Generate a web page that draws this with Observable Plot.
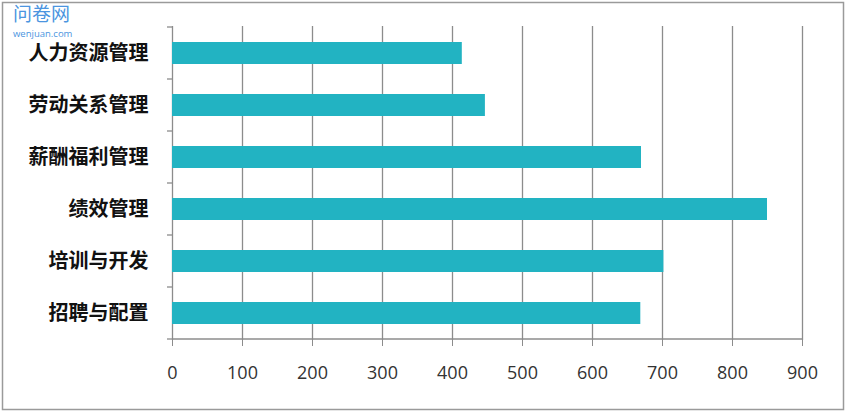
<!DOCTYPE html>
<html>
<head>
<meta charset="utf-8">
<script src="https://cdn.jsdelivr.net/npm/d3@7"></script>
<script src="https://cdn.jsdelivr.net/npm/@observablehq/plot@0.6"></script>
<style>
  html, body { margin: 0; padding: 0; background: #fff; }
  #wrap { position: relative; width: 846px; height: 413px; overflow: hidden; }
  #logo { position: absolute; left: 13px; top: 3px; color: #4b95e0; font-family: "Noto Sans CJK SC", sans-serif; line-height: 1; }
  #logo .cn { font-size: 19px; line-height: 20px; height: 20px; letter-spacing: 0px; }
  #logo .en { font-family: "Open Sans", sans-serif; font-size: 9.5px; line-height: 10px; height: 10px; margin-top: 6px; }
</style>
</head>
<body>
<div id="wrap">
  <div id="chart"></div>
  <div id="logo"><div class="cn">问卷网</div><div class="en">wenjuan.com</div></div>
</div>
<script>
const categories = ["人力资源管理", "劳动关系管理", "薪酬福利管理", "绩效管理", "培训与开发", "招聘与配置"];
const values = [414, 447, 670, 850, 702, 669];
const xTicks = [0, 100, 200, 300, 400, 500, 600, 700, 800, 900];

const data = categories.map((c, i) => ({category: c, value: values[i]}));
const gray = "#8c8c8c";

const chart = Plot.plot({
  width: 846,
  height: 413,
  marginLeft: 172,
  marginRight: 44,
  marginTop: 26,
  marginBottom: 73,
  style: {background: "#fff", overflow: "visible"},
  x: {domain: [0, 900], ticks: xTicks, label: null},
  y: {domain: categories, paddingInner: 0.58, paddingOuter: 0.29, label: null},
  marks: [
    Plot.gridX(xTicks, {stroke: gray, strokeOpacity: 1, strokeWidth: 1.3}),
    Plot.barX(data, {x: "value", y: "category", fill: "#22b3c2"}),
    Plot.axisX({ticks: xTicks, tickSize: 6, tickPadding: 20, stroke: gray, fontSize: 18, fontFamily: "Open Sans, sans-serif", fill: "#333", label: null}),
    Plot.axisY({tickSize: 0, tickPadding: 24, fontSize: 20, fontWeight: "bold", fontFamily: "Noto Sans CJK SC, sans-serif", fill: "#111", label: null})
  ]
});

document.getElementById("chart").appendChild(chart);

// band-boundary ticks on the category axis, bottom axis line, and outer frame
const svg = d3.select(chart);
const ys = chart.scale("y");
const xs = chart.scale("x");
const x0 = xs.apply(0);
const x1 = xs.apply(900);
const gap = (ys.step - ys.bandwidth) / 2;
const bounds = categories.map(c => ys.apply(c) - gap);
bounds.push(ys.apply(categories[categories.length - 1]) + ys.bandwidth + gap);
const g = svg.append("g").attr("stroke", gray).attr("stroke-width", 1.3);
bounds.forEach(b => g.append("line").attr("x1", x0 - 5).attr("x2", x0).attr("y1", b).attr("y2", b));
const yBottom = bounds[bounds.length - 1];
g.append("line").attr("x1", x0).attr("x2", x1 + 1).attr("y1", yBottom).attr("y2", yBottom);
svg.append("rect").attr("x", 2.5).attr("y", 2.5).attr("width", 846 - 5).attr("height", 413 - 6)
  .attr("fill", "none").attr("stroke", "#9a9a9a").attr("stroke-width", 1.5);
</script>
</body>
</html>
